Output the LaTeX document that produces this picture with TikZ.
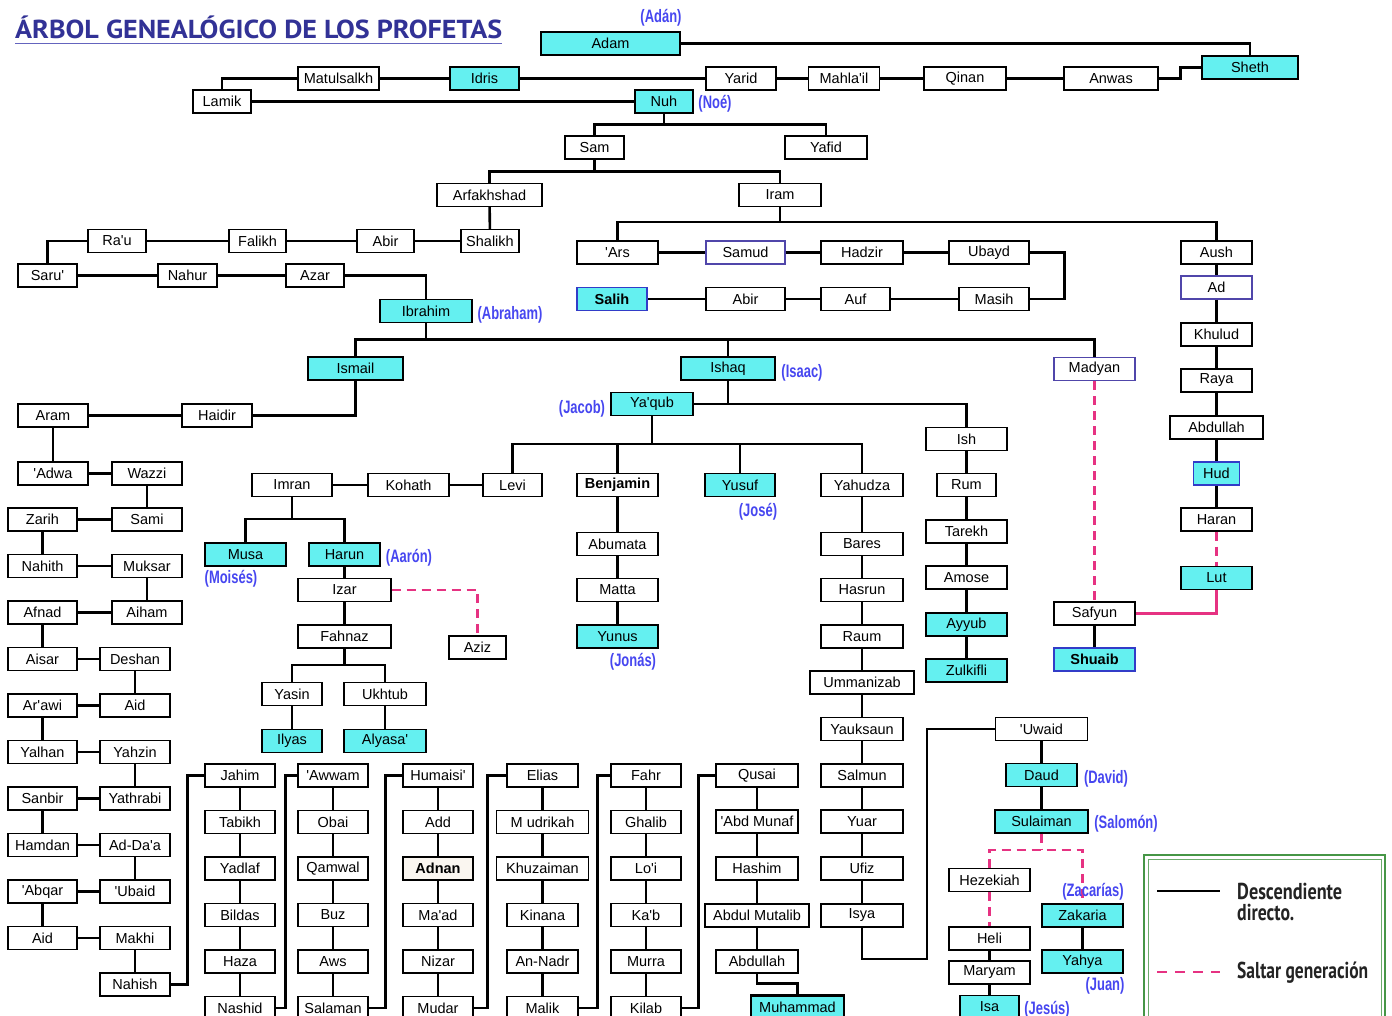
\documentclass[tikz,border=0pt]{standalone}
\usepackage{fontspec}
\setmainfont{Liberation Sans}[Ligatures=TeXOff]
\newfontfamily\titlefont{PT Sans}
\usepackage{graphicx}
\definecolor{cyanbox}{RGB}{100,240,240}
\definecolor{annblue}{RGB}{70,70,240}
\definecolor{titleblue}{RGB}{50,50,150}
\definecolor{titleline}{RGB}{100,100,190}
\definecolor{pinkc}{RGB}{230,50,130}
\definecolor{purpleb}{RGB}{80,70,170}
\definecolor{blueb}{RGB}{50,60,200}
\definecolor{greenb}{RGB}{70,150,70}
\definecolor{leggray}{RGB}{35,35,35}
\definecolor{adnanfill}{RGB}{250,246,240}
\tikzset{
  pb/.style={draw=black, line width=1.3pt, fill=white, minimum height=23, inner sep=0pt,
    font=\fontsize{14.5}{16}\selectfont},
  pbp/.style={pb, draw=purpleb},
  cb/.style={pb, fill=cyanbox},
  cbb/.style={cb, draw=blueb},
  con/.style={line width=2.6pt, draw=black},
  skipgen/.style={line width=2.6pt, draw=pinkc, dash pattern=on 9pt off 6pt},
  pinkline/.style={line width=2.6pt, draw=pinkc},
  ann/.style={inner sep=0pt, text=annblue, font=\fontsize{18}{20}\selectfont\bfseries},
  legtext/.style={inner sep=0pt, anchor=base west, text=leggray}
}
\newcommand{\an}[1]{\scalebox{0.72}[1]{#1}}
\begin{document}
\begin{tikzpicture}[x=1pt,y=-1pt]
\useasboundingbox[fill=white] (0,0) rectangle (1392,1016);

% title
\node[anchor=base west, inner sep=0pt] (title) at (15,39) {\resizebox{487pt}{\height}{\color{titleblue}\titlefont\bfseries\fontsize{26}{30}\selectfont ÁRBOL GENEALÓGICO DE LOS PROFETAS}};
\draw[titleline, line width=1.6pt] (15,43.5) -- (502,43.5);

% ---------- top ----------
\node[cb, minimum width=139] (adam) at (610.5,43.5) {Adam};
\node[cb, minimum width=96] (sheth) at (1250,67.5) {Sheth};
\node[pb, minimum width=94] (anwas) at (1111,78.5) {Anwas};
\node[pb, minimum width=82] (qinan) at (965,78.5) {Qinan};
\node[pb, minimum width=71] (mahlail) at (844,78.5) {Mahla'il};
\node[pb, minimum width=70] (yarid) at (741,78.5) {Yarid};
\node[cb, minimum width=69] (idris) at (484.5,78.5) {Idris};
\node[pb, minimum width=81] (matul) at (338.5,78.5) {Matulsalkh};
\node[pb, minimum width=58] (lamik) at (222,101.5) {Lamik};
\node[cb, minimum width=58] (nuh) at (664,101.5) {Nuh};
\node[pb, minimum width=59] (sam) at (594.5,147.5) {Sam};
\node[pb, minimum width=82] (yafid) at (826,147.5) {Yafid};
\node[pb, minimum width=105] (arfak) at (489.5,195) {Arfakhshad};
\node[pb, minimum width=82] (iram) at (780,195) {Iram};
\node[pb, minimum width=58] (shalikh) at (490,241) {Shalikh};
\node[pb, minimum width=57] (abirA) at (385.5,241) {Abir};
\node[pb, minimum width=57] (falikh) at (257.5,241) {Falikh};
\node[pb, minimum width=58] (rau) at (117,241) {Ra'u};
\node[pb, minimum width=59] (saru) at (47.5,275.5) {Saru'};
\node[pb, minimum width=59] (nahur) at (187.5,275.5) {Nahur};
\node[pb, minimum width=58] (azar) at (315,275.5) {Azar};
\node[cb, minimum width=92] (ibrahim) at (426,311) {Ibrahim};
\node[pb, minimum width=81] (ars) at (617.5,252.5) {'Ars};
\node[pbp, minimum width=79] (samud) at (745.5,252.5) {Samud};
\node[pb, minimum width=82] (hadzir) at (862,252.5) {Hadzir};
\node[pb, minimum width=80] (ubayd) at (989,252.5) {Ubayd};
\node[pb, minimum width=70] (masih) at (994,299) {Masih};
\node[pb, minimum width=69] (auf) at (855.5,299) {Auf};
\node[pb, minimum width=79] (abirB) at (745.5,299) {Abir};
\node[cbb, minimum width=70] (salih) at (612,299) {\bfseries Salih};
\node[pb, minimum width=71] (aush) at (1216.5,252.5) {Aush};
\node[pbp, minimum width=71] (ad) at (1216.5,287.5) {Ad};
\node[pb, minimum width=71] (khulud) at (1216.5,334.5) {Khulud};
\node[pb, minimum width=71] (raya) at (1216.5,380.5) {Raya};
\node[pb, minimum width=93] (abdhud) at (1216.5,427.5) {Abdullah};
\node[cbb, minimum width=46] (hud) at (1216.5,473.5) {Hud};
\node[pb, minimum width=71] (haran) at (1216.5,519.5) {Haran};
\node[cb, minimum width=71] (lut) at (1216.5,578) {Lut};
\node[pbp, minimum width=81] (madyan) at (1094.5,369) {Madyan};
\node[pb, minimum width=81] (safyun) at (1094.5,613.5) {Safyun};
\node[cbb, minimum width=81] (shuaib) at (1094.5,659.5) {\bfseries Shuaib};

% ---------- Ismail / Ishaq ----------
\node[cb, minimum width=95] (ismail) at (355.5,368.5) {Ismail};
\node[cb, minimum width=94] (ishaq) at (728,368.5) {Ishaq};
\node[pb, minimum width=70] (haidir) at (217,415.5) {Haidir};
\node[pb, minimum width=70] (aram) at (53,415.5) {Aram};
\node[pb, minimum width=70] (adwa) at (53,473.5) {'Adwa};
\node[pb, minimum width=70] (wazzi) at (147,473.5) {Wazzi};
\node[pb, minimum width=70] (sami) at (147,519.5) {Sami};
\node[pb, minimum width=69] (zarih) at (42.5,519.5) {Zarih};
\node[pb, minimum width=69] (nahith) at (42.5,566) {Nahith};
\node[pb, minimum width=70] (muksar) at (147,566) {Muksar};
\node[pb, minimum width=70] (aiham) at (147,612.5) {Aiham};
\node[pb, minimum width=69] (afnad) at (42.5,612.5) {Afnad};
\node[pb, minimum width=69] (aisar) at (42.5,659) {Aisar};
\node[pb, minimum width=70] (deshan) at (135,659) {Deshan};
\node[pb, minimum width=70] (aidA) at (135,705.5) {Aid};
\node[pb, minimum width=69] (arawi) at (42.5,705.5) {Ar'awi};
\node[pb, minimum width=69] (yalhan) at (42.5,752) {Yalhan};
\node[pb, minimum width=70] (yahzin) at (135,752) {Yahzin};
\node[pb, minimum width=70] (yathrabi) at (135,798.5) {Yathrabi};
\node[pb, minimum width=69] (sanbir) at (42.5,798.5) {Sanbir};
\node[pb, minimum width=69] (hamdan) at (42.5,845) {Hamdan};
\node[pb, minimum width=70] (addaa) at (135,845) {Ad-Da'a};
\node[pb, minimum width=70] (ubaid) at (135,891.5) {'Ubaid};
\node[pb, minimum width=69] (abqar) at (42.5,891.5) {'Abqar};
\node[pb, minimum width=69] (aidB) at (42.5,938) {Aid};
\node[pb, minimum width=70] (makhi) at (135,938) {Makhi};
\node[pb, minimum width=70] (nahish) at (135,984.5) {Nahish};

% columns
\node[pb, minimum width=70] (jahim) at (240,775.5) {Jahim};
\node[pb, minimum width=70] (tabikh) at (240,822) {Tabikh};
\node[pb, minimum width=70] (yadlaf) at (240,868.5) {Yadlaf};
\node[pb, minimum width=70] (bildas) at (240,915) {Bildas};
\node[pb, minimum width=70] (haza) at (240,961.5) {Haza};
\node[pb, minimum width=70] (nashid) at (240,1008) {Nashid};

\node[pb, minimum width=70] (awwam) at (333,775.5) {'Awwam};
\node[pb, minimum width=70] (obai) at (333,822) {Obai};
\node[pb, minimum width=70] (qamwal) at (333,868.5) {Qamwal};
\node[pb, minimum width=70] (buz) at (333,915) {Buz};
\node[pb, minimum width=70] (aws) at (333,961.5) {Aws};
\node[pb, minimum width=70] (salaman) at (333,1008) {Salaman};

\node[pb, minimum width=70] (humaisi) at (438,775.5) {Humaisi'};
\node[pb, minimum width=70] (add) at (438,822) {Add};
\node[pb, minimum width=70, fill=adnanfill] (adnan) at (438,868.5) {\bfseries Adnan};
\node[pb, minimum width=70] (maad) at (438,915) {Ma'ad};
\node[pb, minimum width=70] (nizar) at (438,961.5) {Nizar};
\node[pb, minimum width=70] (mudar) at (438,1008) {Mudar};

\node[pb, minimum width=71] (elias) at (542.5,775.5) {Elias};
\node[pb, minimum width=92] (mudrikah) at (542.5,822) {M udrikah};
\node[pb, minimum width=92] (khuzaiman) at (542.5,868.5) {Khuzaiman};
\node[pb, minimum width=71] (kinana) at (542.5,915) {Kinana};
\node[pb, minimum width=71] (annadr) at (542.5,961.5) {An-Nadr};
\node[pb, minimum width=71] (malik) at (542.5,1008) {Malik};

\node[pb, minimum width=70] (fahr) at (646,775.5) {Fahr};
\node[pb, minimum width=70] (ghalib) at (646,822) {Ghalib};
\node[pb, minimum width=70] (loi) at (646,868.5) {Lo'i};
\node[pb, minimum width=70] (kab) at (646,915) {Ka'b};
\node[pb, minimum width=70] (murra) at (646,961.5) {Murra};
\node[pb, minimum width=70] (kilab) at (646,1008) {Kilab};

\node[pb, minimum width=82] (qusai) at (757,775.5) {Qusai};
\node[pb, minimum width=82] (abdmunaf) at (757,821.5) {'Abd Munaf};
\node[pb, minimum width=82] (hashim) at (757,868.5) {Hashim};
\node[pb, minimum width=104] (abdmutalib) at (757,915.5) {Abdul Mutalib};
\node[pb, minimum width=82] (abdullahM) at (757,961.5) {Abdullah};
\node[cb, minimum width=93, line width=2.2pt] (muhammad) at (797.5,1007) {Muhammad};

% Ya'qub branch
\node[cb, minimum width=82] (yaqub) at (652,404) {Ya'qub};
\node[pb, minimum width=59] (levi) at (512.5,485) {Levi};
\node[pb, minimum width=81] (kohath) at (408.5,485) {Kohath};
\node[pb, minimum width=80] (imran) at (292,485) {Imran};
\node[pb, minimum width=81] (benjamin) at (617.5,485) {\bfseries Benjamin};
\node[cb, minimum width=70] (yusuf) at (740,485) {Yusuf};
\node[pb, minimum width=81] (abumata) at (617.5,544) {Abumata};
\node[pb, minimum width=81] (matta) at (617.5,590) {Matta};
\node[cb, minimum width=81] (yunus) at (617.5,636.5) {Yunus};
\node[cb, minimum width=81] (musa) at (245.5,554.5) {Musa};
\node[cb, minimum width=71] (harun) at (344.5,554.5) {Harun};
\node[pb, minimum width=93] (izar) at (344.5,590) {Izar};
\node[pb, minimum width=93] (fahnaz) at (344.5,636.5) {Fahnaz};
\node[pb, minimum width=57] (aziz) at (477.5,647.5) {Aziz};
\node[pb, minimum width=60] (yasin) at (292,694) {Yasin};
\node[pb, minimum width=82] (ukhtub) at (385,694) {Ukhtub};
\node[cb, minimum width=60] (ilyas) at (292,741) {Ilyas};
\node[cb, minimum width=82] (alyasa) at (385,741) {Alyasa'};

\node[pb, minimum width=82] (yahudza) at (862,485) {Yahudza};
\node[pb, minimum width=82] (bares) at (862,544) {Bares};
\node[pb, minimum width=82] (hasrun) at (862,590) {Hasrun};
\node[pb, minimum width=82] (raum) at (862,636.5) {Raum};
\node[pb, minimum width=104] (ummanizab) at (862,682.5) {Ummanizab};
\node[pb, minimum width=82] (yauksaun) at (862,729) {Yauksaun};
\node[pb, minimum width=82] (salmun) at (862,775.5) {Salmun};
\node[pb, minimum width=82] (yuar) at (862,821.5) {Yuar};
\node[pb, minimum width=82] (ufiz) at (862,868.5) {Ufiz};
\node[pb, minimum width=82] (isya) at (862,915.5) {Isya};

\node[pb, minimum width=81] (ish) at (966.5,439) {Ish};
\node[pb, minimum width=59] (rum) at (966.5,485) {Rum};
\node[pb, minimum width=81] (tarekh) at (966.5,531.5) {Tarekh};
\node[pb, minimum width=81] (amose) at (966.5,577.5) {Amose};
\node[cb, minimum width=81] (ayyub) at (966.5,624.5) {Ayyub};
\node[cb, minimum width=81] (zulkifli) at (966.5,670.5) {Zulkifli};

\node[pb, minimum width=92] (uwaid) at (1041.5,729) {'Uwaid};
\node[cb, minimum width=71] (daud) at (1041.5,775) {Daud};
\node[cb, minimum width=93] (sulaiman) at (1041.5,821.5) {Sulaiman};
\node[pb, minimum width=81] (hezekiah) at (989.5,880) {Hezekiah};
\node[pb, minimum width=81] (heli) at (989.5,938.5) {Heli};
\node[pb, minimum width=81] (maryam) at (989.5,972.5) {Maryam};
\node[cb, minimum width=59] (isa) at (989.5,1007) {Isa};
\node[cb, minimum width=81] (zakaria) at (1082.5,915.5) {Zakaria};
\node[cb, minimum width=81] (yahya) at (1082.5,961.5) {Yahya};

% ---------- connectors ----------
\draw[con] (adam.east) -| (sheth.north);
\draw[con] (anwas.east) -- ++(22,0) |- (sheth.west);
\draw[con] (anwas) -- (qinan) -- (mahlail) -- (yarid) -- (idris) -- (matul);
\draw[con] (matul.west) -| (lamik.north);
\draw[con] (lamik) -- (nuh);
\coordinate (nuhj) at (664,124.5);
\draw[con] (nuh.south) -- (nuhj);
\draw[con] (sam.north) |- (nuhj) -| (yafid.north);
\coordinate (samj) at (594.5,171.5);
\draw[con] (sam.south) -- (samj);
\draw[con] (arfak.north) |- (samj) -| (iram.north);
\draw[con] (arfak) -- (shalikh);
\draw[con] (shalikh) -- (abirA) -- (falikh) -- (rau);
\draw[con] (rau.west) -| (saru.north);
\draw[con] (saru) -- (nahur) -- (azar);
\draw[con] (azar.east) -| (ibrahim.north);
\coordinate (iramj) at (780,222);
\draw[con] (iram.south) -- (iramj);
\draw[con] (ars.north) |- (iramj) -| (aush.north);
\draw[con] (ars) -- (samud) -- (hadzir) -- (ubayd);
\draw[con] (ubayd.east) -- ++(35,0) |- (masih.east);
\draw[con] (masih) -- (auf) -- (abirB) -- (salih);
\draw[con] (aush) -- (ad) -- (khulud) -- (raya) -- (abdhud) -- (hud) -- (haran);
\draw[skipgen] (haran) -- (lut);
\draw[pinkline] (lut.south) |- (safyun.east);
\draw[skipgen] (madyan) -- (safyun);
\draw[con] (safyun) -- (shuaib);

\coordinate (ibrj) at (426,339.5);
\draw[con] (ibrahim.south) -- (ibrj);
\draw[con] (ismail.north) |- (ibrj) -| (madyan.north);
\draw[con] (ishaq.north) -- (ishaq.north |- ibrj);
\draw[con] (ismail.south) |- (haidir.east);
\draw[con] (haidir) -- (aram);
\draw[con] (aram) -- (adwa) -- (wazzi) -- (sami) -- (zarih) -- (nahith) -- (muksar) -- (aiham) -- (afnad) -- (aisar) -- (deshan) -- (aidA) -- (arawi) -- (yalhan) -- (yahzin) -- (yathrabi) -- (sanbir) -- (hamdan) -- (addaa) -- (ubaid) -- (abqar) -- (aidB) -- (makhi) -- (nahish);
\draw[con] (nahish.east) -- ++(17,0) |- (jahim.west);
\draw[con] (jahim) -- (tabikh) -- (yadlaf) -- (bildas) -- (haza) -- (nashid);
\draw[con] (nashid.east) -- ++(10,0) |- (awwam.west);
\draw[con] (awwam) -- (obai) -- (qamwal) -- (buz) -- (aws) -- (salaman);
\draw[con] (salaman.east) -- ++(17,0) |- (humaisi.west);
\draw[con] (humaisi) -- (add) -- (adnan) -- (maad) -- (nizar) -- (mudar);
\draw[con] (mudar.east) -- ++(14,0) |- (elias.west);
\draw[con] (elias) -- (mudrikah) -- (khuzaiman) -- (kinana) -- (annadr) -- (malik);
\draw[con] (malik.east) -- ++(19,0) |- (fahr.west);
\draw[con] (fahr) -- (ghalib) -- (loi) -- (kab) -- (murra) -- (kilab);
\draw[con] (kilab.east) -- ++(17,0) |- (qusai.west);
\draw[con] (qusai) -- (abdmunaf) -- (hashim) -- (abdmutalib) -- (abdullahM);
\draw[con] (abdullahM.south) -- ++(0,10) -| (muhammad.north);

\draw[con] (ishaq.south) |- (yaqub.east);
\draw[con] (yaqub.east) -| (ish.north);
\coordinate (yqj) at (652,444);
\draw[con] (yaqub.south) -- (yqj);
\draw[con] (levi.north) |- (yqj) -| (yahudza.north);
\draw[con] (benjamin.north) -- (benjamin.north |- yqj);
\draw[con] (yusuf.north) -- (yusuf.north |- yqj);
\draw[con] (levi) -- (kohath) -- (imran);
\coordinate (imj) at (292,519);
\draw[con] (imran.south) -- (imj);
\draw[con] (musa.north) |- (imj) -| (harun.north);
\draw[con] (harun) -- (izar) -- (fahnaz);
\draw[skipgen] (izar.east) -| (aziz.north);
\coordinate (fzj) at (344.5,665);
\draw[con] (fahnaz.south) -- (fzj);
\draw[con] (yasin.north) |- (fzj) -| (ukhtub.north);
\draw[con] (yasin) -- (ilyas);
\draw[con] (ukhtub) -- (alyasa);
\draw[con] (benjamin) -- (abumata) -- (matta) -- (yunus);
\draw[con] (yahudza) -- (bares) -- (hasrun) -- (raum) -- (ummanizab) -- (yauksaun) -- (salmun) -- (yuar) -- (ufiz) -- (isya);
\coordinate (isj) at (927,959);
\draw[con] (isya.south) |- (isj) |- (uwaid.west);
\draw[con] (ish) -- (rum) -- (tarekh) -- (amose) -- (ayyub) -- (zulkifli);
\draw[con] (uwaid) -- (daud) -- (sulaiman);
\coordinate (slj) at (1041.5,850);
\draw[skipgen] (sulaiman.south) -- (slj);
\draw[skipgen] (hezekiah.north) |- (slj) -| (zakaria.north);
\draw[skipgen] (hezekiah) -- (heli);
\draw[con] (heli) -- (maryam) -- (isa);
\draw[con] (zakaria) -- (yahya);

% ---------- annotations ----------
\node[ann] (lAdan) at (661,18) {\an{(Adán)}};
\node[ann] (lNoe) at (715,104) {\an{(Noé)}};
\node[ann] (lAbraham) at (510,315) {\an{(Abraham)}};
\node[ann] (lIsaac) at (802,373) {\an{(Isaac)}};
\node[ann] (lJacob) at (582,409) {\an{(Jacob)}};
\node[ann] (lJose) at (758,512) {\an{(José)}};
\node[ann] (lJonas) at (633,662) {\an{(Jonás)}};
\node[ann] (lMoises) at (231,579) {\an{(Moisés)}};
\node[ann] (lAaron) at (409,558) {\an{(Aarón)}};
\node[ann] (lDavid) at (1106,779) {\an{(David)}};
\node[ann] (lSalomon) at (1126,824) {\an{(Salomón)}};
\node[ann] (lZacarias) at (1093,892) {\an{(Zacarías)}};
\node[ann] (lJuan) at (1105,986) {\an{(Juan)}};
\node[ann] (lJesus) at (1047,1010) {\an{(Jesús)}};

% ---------- legend ----------
\draw[greenb, line width=1.4pt] (1144,855) rectangle (1385,1030);
\draw[greenb!80, line width=1pt] (1148,859) rectangle (1381,1030);
\coordinate (lgA) at (1157,891);
\coordinate (lgB) at (1220,891);
\coordinate (lgC) at (1157,972);
\coordinate (lgD) at (1220,972);
\draw[con, line width=2.2pt] (lgA) -- (lgB);
\draw[pinkline, line width=2.2pt, dash pattern=on 10pt off 8pt] (lgC) -- (lgD);
\node[legtext] (lg1) at (1237,899) {\resizebox{105pt}{\height}{\titlefont\bfseries\fontsize{23}{26}\selectfont Descendiente}};
\node[legtext] (lg2) at (1237,920) {\resizebox{57pt}{\height}{\titlefont\bfseries\fontsize{23}{26}\selectfont directo.}};
\node[legtext] (lg3) at (1237,978) {\resizebox{131pt}{\height}{\titlefont\bfseries\fontsize{23}{26}\selectfont Saltar generación}};
\end{tikzpicture}
\end{document}
